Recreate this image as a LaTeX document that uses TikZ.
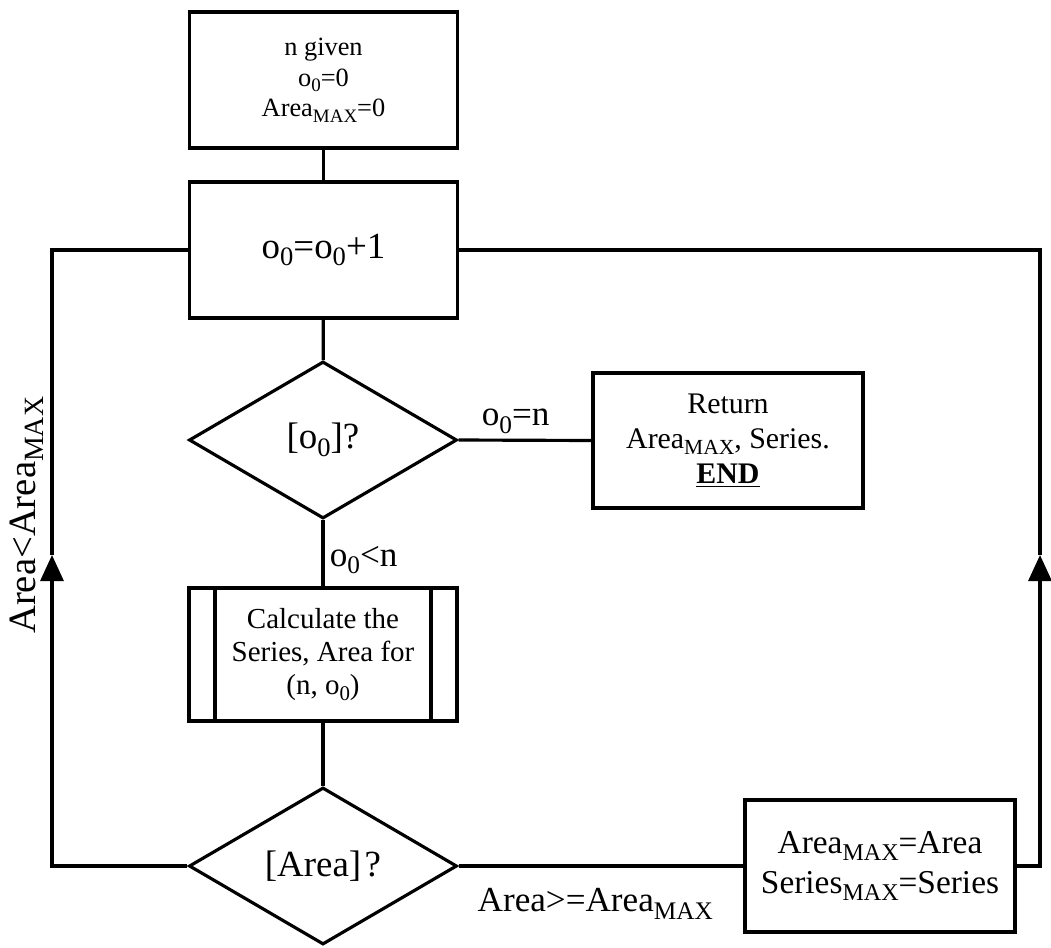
\documentclass[tikz,border=0pt]{standalone}
\usepackage{fontspec}
\setmainfont{Liberation Serif}
\usetikzlibrary{arrows.meta, positioning, shapes.geometric}
\newcommand{\lo}[1]{\raisebox{-0.45ex}{\scalebox{0.72}{#1}}}

\begin{document}
\begin{tikzpicture}[
    line/.style={line width=1.8pt},
    arrow/.style={line, -{Triangle[length=0.52cm, width=0.46cm]}},
    stepbox/.style={draw, line width=1.8pt, minimum width=5.36cm, minimum height=2.72cm, align=center, inner sep=2pt},
    subproc/.style={stepbox, minimum height=2.66cm, font=\fontsize{16.5}{19}\selectfont,
        path picture={
            \draw[line width=1.8pt] ([xshift=0.52cm]path picture bounding box.north west) -- ([xshift=0.52cm]path picture bounding box.south west);
            \draw[line width=1.8pt] ([xshift=-0.52cm]path picture bounding box.north east) -- ([xshift=-0.52cm]path picture bounding box.south east);
        }},
    decision/.style={diamond, draw, line width=1.8pt, minimum width=5.36cm, minimum height=3.14cm, inner sep=0pt, font=\fontsize{21}{24}\selectfont},
    cond/.style={font=\fontsize{20}{23}\selectfont, inner sep=3pt}
]
\useasboundingbox (0,0) rectangle (21.02,-18.94);

% === Cajas ===
\node[stepbox, font=\fontsize{15}{17.5}\selectfont] (given) at (6.47, -1.6) {n given\\ o\lo{0}=0\\ Area\lo{MAX}=0};
\node[stepbox, font=\fontsize{21}{24}\selectfont] (incr) at (6.47, -5.0) {o\lo{0}=o\lo{0}+1};
\node[decision] (chk) at (6.46, -8.8) {[o\lo{0}]?};
\node[stepbox, minimum width=5.4cm, minimum height=2.7cm, font=\fontsize{17}{20}\selectfont] (ret) at (14.56, -8.81) {Return\\ Area\lo{MAX}, Series.\\ \underline{\textbf{END}}};
\node[subproc] (calc) at (6.46, -13.09) {Calculate the\\ Series, Area for\\ (n, o\lo{0})};
\node[decision] (cmp) at (6.46, -17.32) {[Area]\kern2pt?};
\node[stepbox, minimum width=5.4cm, minimum height=2.64cm, font=\fontsize{19}{23}\selectfont] (upd) at (17.6, -17.32) {Area\lo{MAX}=Area\\ Series\lo{MAX}=Series};

% === Puntos de las flechas ===
\coordinate (larr) at (1.04, -11.1);
\coordinate (rarr) at (20.8, -11.1);

% === Conexiones ===
\draw[line] (given) -- (incr);
\draw[line] (incr) -- (chk);
\draw[line] (chk.east) -- node[cond, pos=0.43, above] {o\lo{0}=n} (ret.west);
\draw[line] (chk.south) -- node[cond, pos=0.6, right] {o\lo{0}<n} (calc.north);
\draw[line] (calc) -- (cmp);
\draw[line] (cmp.east) -- node[cond, pos=0.48, below=9pt] {Area>=Area\lo{MAX}} (upd.west);

% vuelta izquierda
\draw[arrow] (cmp.west) -| (larr);
\draw[line] (larr) |- node[cond, pos=0.065, sloped, above=1pt, font=\fontsize{22}{24}\selectfont] {Area<Area\lo{MAX}} (incr.west);

% vuelta derecha
\draw[arrow] (upd.east) -| (rarr);
\draw[line] (rarr) |- (incr.east);

\end{tikzpicture}
\end{document}
